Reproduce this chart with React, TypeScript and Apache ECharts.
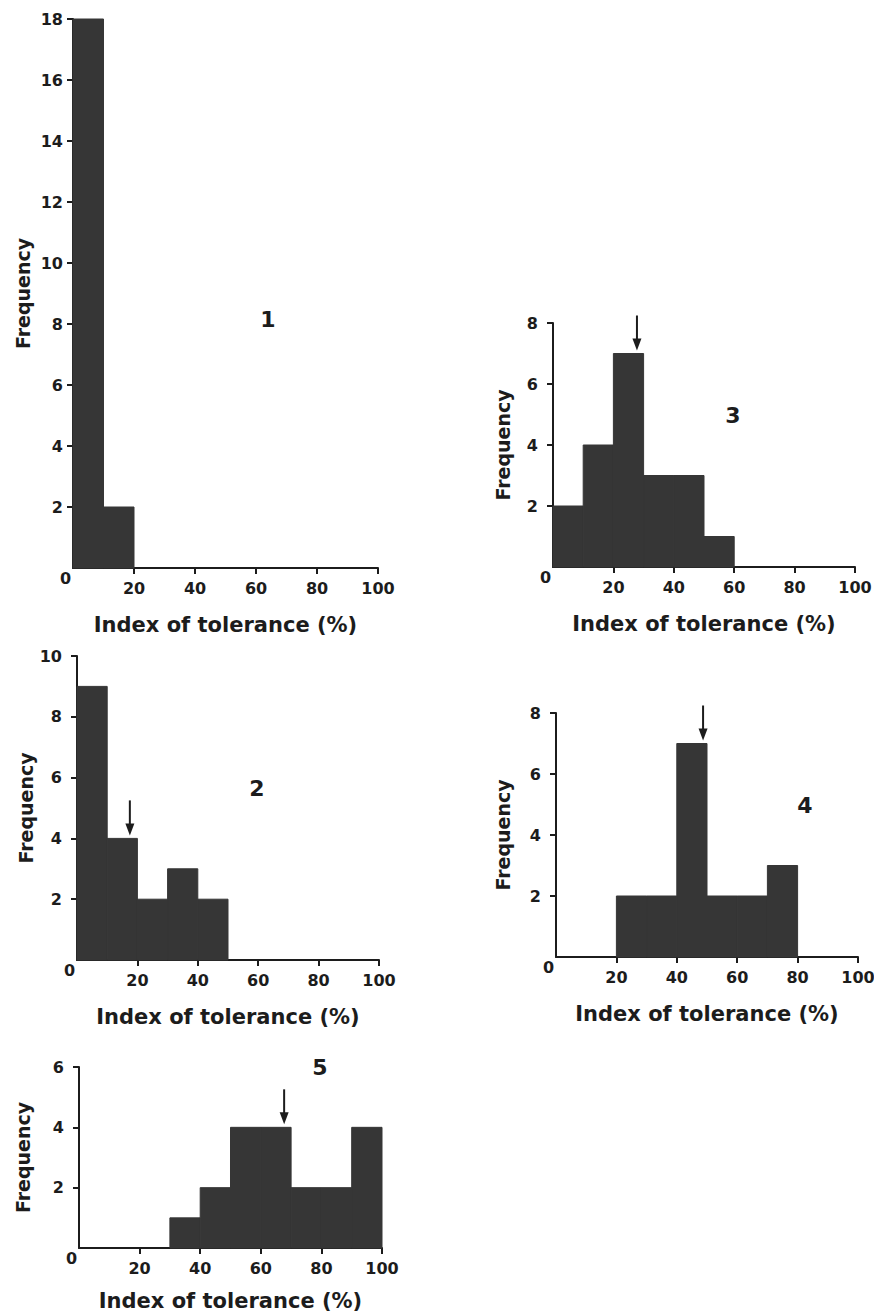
import React, { useEffect, useRef } from "react";
import * as echarts from "echarts";

// ---- data ----
const BIN_STARTS = [0, 10, 20, 30, 40, 50, 60, 70, 80, 90];
const BIN_WIDTH = 10;
const COUNTS_1 = [18, 2, 0, 0, 0, 0, 0, 0, 0, 0];
const COUNTS_2 = [9, 4, 2, 3, 2, 0, 0, 0, 0, 0];
const COUNTS_3 = [2, 4, 7, 3, 3, 1, 0, 0, 0, 0];
const COUNTS_4 = [0, 0, 2, 2, 7, 2, 2, 3, 0, 0];
const COUNTS_5 = [0, 0, 0, 1, 2, 4, 4, 2, 2, 4];
const ARROW_X = [null, 17.5, 27.8, 48.7, 67.7];
const Y_MAX = [18, 10, 8, 8, 6];
const PANEL_LABELS = ["1", "2", "3", "4", "5"];
const X_TICKS = [20, 40, 60, 80, 100];
const X_NAME = "Index of tolerance (%)";
const Y_NAME = "Frequency";

const COUNTS = [COUNTS_1, COUNTS_2, COUNTS_3, COUNTS_4, COUNTS_5];

// ---- layout / style ----
const LAYOUT = [
  { left: 73, top: 19, width: 305, height: 549, lx: 268, ly: 319, yMargin: 10, yGap: 41, xGap: 46 },
  { left: 77, top: 656, width: 302, height: 304, lx: 257, ly: 788, yMargin: 15, yGap: 42, xGap: 46 },
  { left: 553, top: 323, width: 302, height: 244, lx: 733, ly: 415, yMargin: 15, yGap: 41, xGap: 46 },
  { left: 556, top: 713, width: 302, height: 244, lx: 805, ly: 805, yMargin: 15, yGap: 44, xGap: 46 },
  { left: 79, top: 1067, width: 303, height: 181, lx: 320, ly: 1067, yMargin: 15, yGap: 47, xGap: 42 },
];
const FONT = "'DejaVu Sans', sans-serif";
const INK = "#1c1c1c";
const BAR = "#363636";

function buildOption() {
  const grid: any[] = [];
  const xAxis: any[] = [];
  const yAxis: any[] = [];
  const series: any[] = [];
  const graphic: any[] = [];

  LAYOUT.forEach((L, i) => {
    grid.push({
      left: L.left,
      top: L.top,
      width: L.width,
      height: L.height,
      containLabel: false,
      outerBoundsMode: "none",
    });
    xAxis.push({
      gridIndex: i,
      type: "value",
      min: 0,
      max: 100,
      interval: 20,
      splitLine: { show: false },
      axisLine: { show: true, onZero: false, lineStyle: { color: INK, width: 2 } },
      axisTick: {
        show: true,
        inside: false,
        length: 6,
        customValues: X_TICKS,
        lineStyle: { color: INK, width: 2 },
      },
      axisLabel: {
        show: true,
        margin: 2,
        color: INK,
        fontFamily: FONT,
        fontWeight: "bold",
        fontSize: 16,
        formatter: (v: number) => (v === 0 ? "{z|0}" : "{n|" + v + "}"),
        rich: {
          n: { padding: [10, 0, 0, 0], fontFamily: FONT, fontWeight: "bold", fontSize: 16, color: INK },
          z: { padding: [0, 15, 0, 0], fontFamily: FONT, fontWeight: "bold", fontSize: 16, color: INK },
        },
      },
      name: X_NAME,
      nameLocation: "middle",
      nameGap: L.xGap,
      nameMoveOverlap: false,
      nameTextStyle: { color: INK, fontFamily: FONT, fontWeight: "bold", fontSize: 21 },
    });
    const yTicks: number[] = [];
    for (let t = 2; t <= Y_MAX[i]; t += 2) yTicks.push(t);
    yAxis.push({
      gridIndex: i,
      type: "value",
      min: 0,
      max: Y_MAX[i],
      interval: 2,
      splitLine: { show: false },
      axisLine: { show: true, onZero: false, lineStyle: { color: INK, width: 2 } },
      axisTick: {
        show: true,
        inside: false,
        length: 6,
        customValues: yTicks,
        lineStyle: { color: INK, width: 2 },
      },
      axisLabel: {
        show: true,
        margin: L.yMargin,
        color: INK,
        fontFamily: FONT,
        fontWeight: "bold",
        fontSize: 16,
        formatter: (v: number) => (v === 0 ? "" : String(v)),
      },
      name: Y_NAME,
      nameLocation: "middle",
      nameRotate: 90,
      nameGap: L.yGap,
      nameMoveOverlap: false,
      nameTextStyle: { color: INK, fontFamily: FONT, fontWeight: "bold", fontSize: 19 },
    });

    const counts = COUNTS[i];
    series.push({
      type: "custom",
      xAxisIndex: i,
      yAxisIndex: i,
      clip: false,
      silent: true,
      encode: { x: [0, 1], y: 2 },
      data: BIN_STARTS.map((s, k) => [s, s + BIN_WIDTH, counts[k]]),
      renderItem: (params: any, api: any) => {
        const v = api.value(2);
        if (!v) return null;
        const a = api.coord([api.value(0), 0]);
        const b = api.coord([api.value(1), v]);
        return {
          type: "rect",
          shape: { x: a[0], y: b[1], width: b[0] - a[0], height: a[1] - b[1] },
          style: { fill: BAR, stroke: BAR, lineWidth: 1 },
        };
      },
    });

    const ax = ARROW_X[i];
    if (ax !== null && ax !== undefined) {
      const h = counts[Math.floor(ax / BIN_WIDTH)];
      series.push({
        type: "custom",
        xAxisIndex: i,
        yAxisIndex: i,
        clip: false,
        silent: true,
        z: 5,
        data: [[ax, h]],
        renderItem: (params: any, api: any) => {
          const p = api.coord([api.value(0), api.value(1)]);
          const x = p[0];
          const tip = p[1] - 3;
          return {
            type: "group",
            children: [
              {
                type: "line",
                shape: { x1: x, y1: tip - 35, x2: x, y2: tip - 8 },
                style: { stroke: INK, lineWidth: 2 },
              },
              {
                type: "polygon",
                shape: { points: [[x - 4.5, tip - 12], [x + 4.5, tip - 12], [x, tip]] },
                style: { fill: INK },
              },
            ],
          };
        },
      });
    }

    graphic.push({
      type: "text",
      x: L.lx,
      y: L.ly,
      style: {
        text: PANEL_LABELS[i],
        fill: INK,
        font: `bold 22px ${FONT}`,
        align: "center",
        verticalAlign: "middle",
      },
    });
  });

  return {
    animation: false,
    backgroundColor: "#ffffff",
    grid,
    xAxis,
    yAxis,
    series,
    graphic,
  };
}

export default function App() {
  const ref = useRef<HTMLDivElement>(null);
  useEffect(() => {
    document.body.style.margin = "0";
    if (!ref.current) return;
    const chart = echarts.init(ref.current, undefined, { renderer: "svg" });
    chart.setOption(buildOption() as any);
    return () => chart.dispose();
  }, []);
  return <div ref={ref} style={{ width: 874, height: 1314 }} />;
}
